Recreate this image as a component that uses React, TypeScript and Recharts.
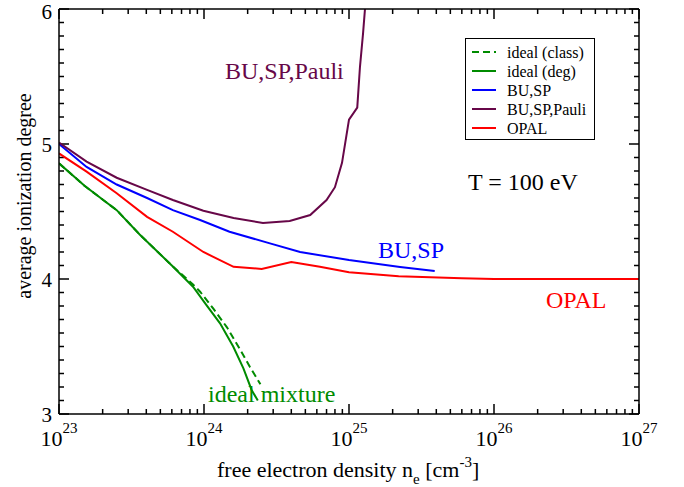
import React from 'react';
import { LineChart, Line, XAxis, YAxis, ReferenceLine } from 'recharts';

const FONT = '"Liberation Serif", "Times New Roman", serif';

// ---- tick definitions ----
const xExponents = [23, 24, 25, 26, 27];
const minorMultipliers = [2, 3, 4, 5, 6, 7, 8, 9];
const yMin = 3;
const yMax = 6;
const yMajorTicks = [3, 4, 5, 6];

// ---- data (free electron density [cm^-3], average ionization degree) ----
const idealClassDensity = [1e23, 1.5e23, 2.5e23, 3.6e23, 6e23, 8.4e23, 9.4e23, 1.16e24, 1.44e24, 1.77e24, 2.07e24, 2.45e24];
const idealClassZ = [4.857, 4.69, 4.51, 4.33, 4.1, 3.96, 3.906, 3.78, 3.642, 3.48, 3.35, 3.22];

const idealDegDensity = [1e23, 1.5e23, 2.5e23, 3.6e23, 6e23, 8.4e23, 1.04e24, 1.29e24, 1.59e24, 1.87e24, 2.13e24, 2.35e24];
const idealDegZ = [4.857, 4.69, 4.51, 4.33, 4.1, 3.943, 3.807, 3.672, 3.5, 3.338, 3.178, 3.1];

const buspDensity = [1e23, 1.55e23, 2.5e23, 4.05e23, 6.1e23, 9.4e23, 1.5e24, 2.85e24, 4.6e24, 1e25, 2.25e25, 3.9e25];
const buspZ = [5.0, 4.83, 4.7, 4.6, 4.51, 4.437, 4.35, 4.264, 4.2, 4.14, 4.089, 4.059];

const pauliDensity = [1e23, 1.55e23, 2.5e23, 4.05e23, 6.1e23, 9.9e23, 1.6e24, 2.55e24, 3.9e24, 5.4e24, 7e24, 8e24, 8.95e24, 1e25, 1.14e25, 1.19e25, 1.25e25, 1.3e25];
const pauliZ = [5.01, 4.87, 4.75, 4.66, 4.585, 4.506, 4.452, 4.415, 4.43, 4.474, 4.585, 4.68, 4.86, 5.18, 5.27, 5.57, 5.82, 6.05];

const opalDensity = [1e23, 1.55e23, 2.5e23, 4.05e23, 6.1e23, 9.9e23, 1.6e24, 2.5e24, 4e24, 6.3e24, 1e25, 2.2e25, 6e25, 1e26, 1e27];
const opalZ = [4.93, 4.795, 4.635, 4.46, 4.35, 4.2, 4.09, 4.075, 4.125, 4.09, 4.05, 4.02, 4.005, 4.0, 4.0];

const seriesNames = ['ideal (class)', 'ideal (deg)', 'BU,SP', 'BU,SP,Pauli', 'OPAL'];
const seriesColors = ['#008b00', '#008b00', '#0000ff', '#670748', '#ff0000'];
const seriesDashes = ['7 4', undefined, undefined, undefined, undefined];

const zip = (xs: number[], ys: number[]) => xs.map((n, i) => ({ n, z: ys[i] }));
const seriesData = [
  zip(idealClassDensity, idealClassZ),
  zip(idealDegDensity, idealDegZ),
  zip(buspDensity, buspZ),
  zip(pauliDensity, pauliZ),
  zip(opalDensity, opalZ),
];

const xTicks: number[] = [];
xExponents.forEach((e, i) => {
  xTicks.push(Math.pow(10, e));
  if (i < xExponents.length - 1) minorMultipliers.forEach((m) => xTicks.push(m * Math.pow(10, e)));
});
const yTicks: number[] = [];
for (let i = 0; i <= (yMax - yMin) * 10; i++) yTicks.push(Math.round((yMin + i * 0.1) * 10) / 10);

const xMin = Math.pow(10, xExponents[0]);
const xMax = Math.pow(10, xExponents[xExponents.length - 1]);

const isMajorX = (v: number) => {
  const l = Math.log10(v);
  return Math.abs(l - Math.round(l)) < 1e-6;
};
const isMajorY = (v: number) => yMajorTicks.some((t) => Math.abs(t - v) < 1e-6);

// tick lengths expressed in axis units (plot: 135 px per unit in y, 145 px per decade in x)
const yUnitPx = 135;
const xDecadePx = 145;
const tickLen = (major: boolean) => (major ? 10 : 5);

const AX = { stroke: '#000', strokeWidth: 1.5 };

const BottomTick = (p: any) => {
  const v = p.payload.value;
  if (!isMajorX(v)) return <g />;
  return (
    <text x={p.x} y={p.y + 32} textAnchor="middle" fontFamily={FONT} fontSize={22} fill="#000">
      <tspan>10</tspan>
      <tspan dy={-13} fontSize={15}>{Math.round(Math.log10(v))}</tspan>
    </text>
  );
};
const LeftTick = (p: any) => {
  const v = p.payload.value;
  if (!isMajorY(v)) return <g />;
  return (
    <text x={p.x - 7} y={Math.max(p.y + 8, 19)} textAnchor="end" fontFamily={FONT} fontSize={21} fill="#000">
      {Math.round(v)}
    </text>
  );
};

const xCommon = {
  dataKey: 'n',
  type: 'number' as const,
  scale: 'log' as const,
  domain: [xMin, xMax],
  allowDataOverflow: true,
  ticks: xTicks,
  interval: 0,
  tickSize: 0,
  tickMargin: 0,
  tickLine: false,
  axisLine: AX,
};
const yCommon = {
  type: 'number' as const,
  domain: [yMin, yMax],
  allowDataOverflow: true,
  ticks: yTicks,
  interval: 0,
  tickSize: 0,
  tickMargin: 0,
  tickLine: false,
  axisLine: AX,
};

const tickSegments: { key: string; seg: { x: number; y: number }[] }[] = [];
xTicks.forEach((v) => {
  const dy = tickLen(isMajorX(v)) / yUnitPx;
  tickSegments.push({ key: 'b' + v, seg: [{ x: v, y: yMin }, { x: v, y: yMin + dy }] });
  tickSegments.push({ key: 't' + v, seg: [{ x: v, y: yMax }, { x: v, y: yMax - dy }] });
});
yTicks.forEach((v) => {
  const f = Math.pow(10, tickLen(isMajorY(v)) / xDecadePx);
  tickSegments.push({ key: 'l' + v, seg: [{ x: xMin, y: v }, { x: xMin * f, y: v }] });
  tickSegments.push({ key: 'r' + v, seg: [{ x: xMax, y: v }, { x: xMax / f, y: v }] });
});

export default function App() {
  return (
    <div style={{ position: 'absolute', left: 0, top: 0, width: 684, height: 487, background: '#fff' }}>
      <LineChart width={684} height={487} margin={{ top: 8, right: 44, bottom: 0, left: 0 }}>
        <XAxis xAxisId="bottom" orientation="bottom" height={73} {...xCommon} tick={(p: any) => <BottomTick {...p} />} />
        <XAxis xAxisId="top" orientation="top" height={1} {...xCommon} tick={false} />
        <YAxis yAxisId="left" orientation="left" width={59} {...yCommon} tick={(p: any) => <LeftTick {...p} />} />
        <YAxis yAxisId="right" orientation="right" width={1} {...yCommon} tick={false} />
        {tickSegments.map((t) => (
          <ReferenceLine
            key={t.key}
            xAxisId="bottom"
            yAxisId="left"
            segment={t.seg}
            stroke="#000"
            strokeWidth={1.5}
            ifOverflow="visible"
          />
        ))}
        {seriesData.map((d, i) => (
          <Line
            key={seriesNames[i]}
            data={d}
            dataKey="z"
            name={seriesNames[i]}
            xAxisId="bottom"
            yAxisId="left"
            type="linear"
            stroke={seriesColors[i]}
            strokeWidth={2}
            strokeDasharray={seriesDashes[i]}
            dot={false}
            activeDot={false}
            isAnimationActive={false}
          />
        ))}
      </LineChart>
      <svg width={684} height={487} style={{ position: 'absolute', left: 0, top: 0, pointerEvents: 'none' }}>
        <g fontFamily={FONT}>
          <text x={217} y={477} fontSize={22} fill="#000">
            <tspan>free electron density n</tspan>
            <tspan dy={7} fontSize={15}>e</tspan>
            <tspan dy={-7}> [cm</tspan>
            <tspan dy={-10} fontSize={15}>-3</tspan>
            <tspan dy={10}>]</tspan>
          </text>
          <text transform="translate(31,196) rotate(-90)" textAnchor="middle" fontSize={20} fill="#000">
            average ionization degree
          </text>
          <text x={225} y={79} fontSize={24} fill={seriesColors[3]}>BU,SP,Pauli</text>
          <text x={378} y={258} fontSize={24} fill={seriesColors[2]}>BU,SP</text>
          <text x={468} y={190} fontSize={24} fill="#000">T = 100 eV</text>
          <text x={546} y={308} fontSize={24} fill={seriesColors[4]}>OPAL</text>
          <text x={208} y={402} fontSize={24} fill={seriesColors[1]}>ideal mixture</text>
          <rect x={465.5} y={38.5} width={129} height={101} fill="#fff" stroke="#000" strokeWidth={1} />
          {seriesNames.map((name, i) => (
            <g key={name}>
              <line x1={472} x2={496} y1={52 + i * 19} y2={52 + i * 19} stroke={seriesColors[i]} strokeWidth={2} strokeDasharray={seriesDashes[i]} />
              <text x={507} y={52 + i * 19} dy="0.35em" fontSize={16} fill="#000">{name}</text>
            </g>
          ))}
        </g>
      </svg>
    </div>
  );
}
